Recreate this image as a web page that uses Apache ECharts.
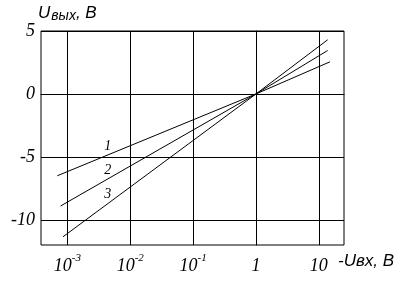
<!DOCTYPE html>
<html><head><meta charset="utf-8">
<script src="https://cdn.jsdelivr.net/npm/echarts@6/dist/echarts.min.js"></script>
<style>html,body{margin:0;padding:0;background:#fff}#c{width:403px;height:287px}</style>
</head><body><div id="c"></div>
<script>
// Input voltage (-Uвх, B) and output voltage (Uвых, B)
var line1X = [6.9e-4, 1, 15];
var line1Y = [-6.5, 0, 2.55];
var line2X = [7.8e-4, 1, 13.8];
var line2Y = [-8.9, 0, 3.45];
var line3X = [8.5e-4, 1, 13.8];
var line3Y = [-11.35, 0, 4.3];
var curveNames = ['1', '2', '3'];
var labelX = [0.0044, 0.0044, 0.0044];
var labelY = [-4.2, -6.05, -7.95];
var xTickValues = [0.001, 0.01, 0.1, 1, 10];
var xTickLabels = ['10^-3', '10^-2', '10^-1', '1', '10'];
var yTickValues = [-10, -5, 0, 5];
var xMin = 10 ** -3.42, xMax = 10 ** 1.40;

function lg(v) { return Math.log10(v); }
function pts(xs, ys) { return xs.map(function (x, i) { return [lg(x), ys[i]]; }); }
var xExp = xTickValues.map(lg);
var labelMap = {};
xExp.forEach(function (e, i) { labelMap[e.toFixed(3)] = xTickLabels[i]; });

var serif = 'Liberation Serif';
var chart = echarts.init(document.getElementById('c'), null, { renderer: 'canvas' });
var lineStyle = { color: '#000', width: 1 };
var series = [[line1X, line1Y], [line2X, line2Y], [line3X, line3Y]].map(function (d, i) {
  return {
    type: 'line', data: pts(d[0], d[1]), symbol: 'none', silent: true,
    lineStyle: lineStyle, animation: false,
    markPoint: {
      symbol: 'circle', symbolSize: 1, silent: true, animation: false,
      itemStyle: { color: 'rgba(0,0,0,0)' },
      label: { show: true, position: 'inside', formatter: curveNames[i], color: '#000', fontFamily: serif, fontStyle: 'italic', fontSize: 14 },
      data: [{ coord: [lg(labelX[i]), labelY[i]] }]
    }
  };
});

chart.setOption({
  animation: false,
  grid: { left: 41, right: 59, top: 31, bottom: 42, show: true, borderColor: '#000', borderWidth: 1 },
  xAxis: {
    type: 'value', min: lg(xMin), max: lg(xMax),
    axisLine: { show: true, lineStyle: { color: '#000', width: 1 } },
    axisTick: { show: false, customValues: xExp },
    splitLine: { show: true, lineStyle: { color: '#000', width: 1 } },
    axisLabel: {
      customValues: xExp, margin: 8, color: '#000',
      formatter: function (v) {
        var s = labelMap[v.toFixed(3)] || '';
        var p = s.split('^');
        return p.length > 1 ? '{b|' + p[0] + '}{s|' + p[1] + '}' : '{b|' + s + '}';
      },
      rich: {
        b: { fontFamily: serif, fontStyle: 'italic', fontSize: 18, color: '#000', verticalAlign: 'bottom', lineHeight: 22 },
        s: { fontFamily: serif, fontStyle: 'italic', fontSize: 11, color: '#000', verticalAlign: 'top', lineHeight: 11 }
      }
    }
  },
  yAxis: {
    type: 'value', min: -12, max: 5,
    axisLine: { show: true, lineStyle: { color: '#000', width: 1 } },
    axisTick: { show: false, customValues: yTickValues },
    splitLine: { show: true, lineStyle: { color: '#000', width: 1 } },
    axisLabel: { customValues: yTickValues, margin: 6, color: '#000', fontFamily: serif, fontStyle: 'italic', fontSize: 18 }
  },
  graphic: [
    {
      type: 'text', left: 38, top: 5, silent: true,
      style: {
        text: '{u|U}{sub|вых}{u|, B}',
        rich: {
          u: { fontFamily: 'Liberation Sans', fontStyle: 'italic', fontSize: 17, fill: '#000' },
          sub: { fontFamily: 'Liberation Sans', fontStyle: 'italic', fontSize: 14, fill: '#000', padding: [6, 0, 0, 1] }
        }
      }
    },
    {
      type: 'text', left: 338, top: 253, silent: true,
      style: { text: '-Uвх, B', font: 'italic 17px "Liberation Sans"', fill: '#000' }
    }
  ],
  series: series
});
</script></body></html>
